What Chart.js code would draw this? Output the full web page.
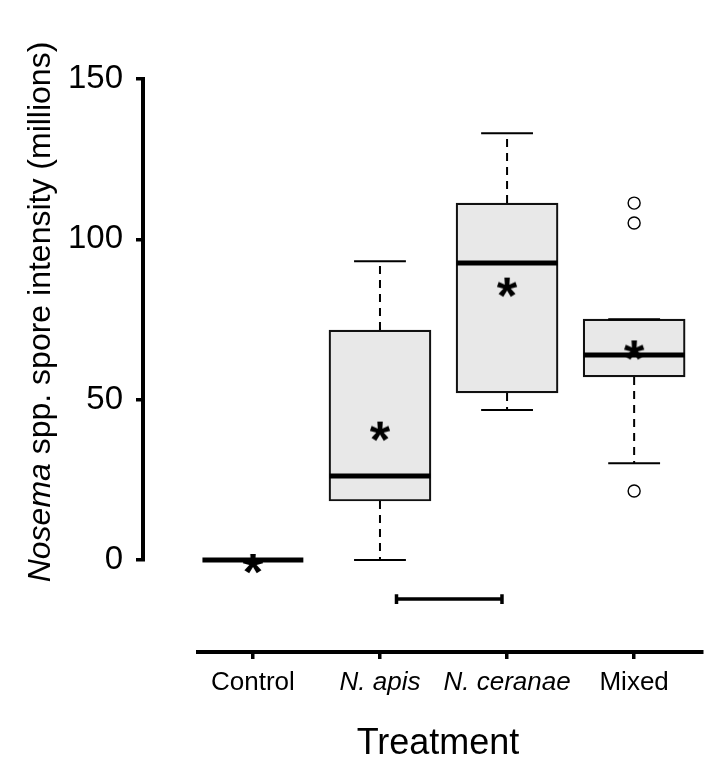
<!DOCTYPE html>
<html><head><meta charset="utf-8">
<script src="https://cdn.jsdelivr.net/npm/chart.js@4.4.1/dist/chart.umd.min.js"></script>
<style>html,body{margin:0;padding:0;background:#fff;}canvas{display:block}</style>
</head><body>
<canvas id="c" width="713" height="766"></canvas>
<script>
// ---- data ----
const categories = ['Control', 'N. apis', 'N. ceranae', 'Mixed'];
const italicCategory = [false, true, true, false];
const whiskerLow  = [0, 0, 46.8, 30.2];
const q1          = [0, 18.4, 52.1, 57.1];
const median      = [0, 26.2, 92.6, 63.9];
const q3          = [0, 71.7, 111.3, 75.1];
const whiskerHigh = [0, 93.2, 133.1, 75.1];
const means       = [0, 41.3, 86.2, 66.6];
const outlierCategory = ['Mixed', 'Mixed', 'Mixed'];
const outlierValues   = [111.3, 105.1, 21.5];
const yTicks = [0, 50, 100, 150];
const bracketEnds = [2.13, 2.96];
const bracketLevel = [-12.2];
const xTitle = 'Treatment';
const yTitleItalic = 'Nosema';
const yTitleRest = ' spp. spore intensity (millions)';

// ---- styling ----
const FONT = '"Liberation Sans", Arial, Helvetica, sans-serif';
const BOX_HALF = 0.397, CAP_HALF = 0.204, SERIF_HALF = 1.0;
const xPos = categories.map((_, i) => i + 1);

function segments(list) {
  const out = [];
  list.forEach(s => { out.push({x: s[0], y: s[1]}, {x: s[2], y: s[3]}, {x: s[2], y: null}); });
  return out;
}
const whiskerSegs = [], capSegs = [], medianSegs = [];
xPos.forEach((x, i) => {
  if (whiskerHigh[i] > q3[i]) whiskerSegs.push([x, q3[i], x, whiskerHigh[i]]);
  if (whiskerLow[i] < q1[i]) whiskerSegs.push([x, q1[i], x, whiskerLow[i]]);
  capSegs.push([x - CAP_HALF, whiskerHigh[i], x + CAP_HALF, whiskerHigh[i]]);
  capSegs.push([x - CAP_HALF, whiskerLow[i], x + CAP_HALF, whiskerLow[i]]);
  medianSegs.push([x - BOX_HALF, median[i], x + BOX_HALF, median[i]]);
});
const lvl = bracketLevel[0];
const bracketSegs = [
  [bracketEnds[0], lvl - SERIF_HALF, bracketEnds[0], lvl + SERIF_HALF],
  [bracketEnds[0], lvl, bracketEnds[1], lvl],
  [bracketEnds[1], lvl - SERIF_HALF, bracketEnds[1], lvl + SERIF_HALF]
];

function asteriskImage() {
  const c = document.createElement('canvas');
  c.width = 60; c.height = 60;
  const g = c.getContext('2d');
  g.font = `bold 40px ${FONT}`;
  let m = g.measureText('*');
  const h40 = m.actualBoundingBoxAscent + m.actualBoundingBoxDescent;
  const size = 40 * 21 / h40;
  g.font = `bold ${size}px ${FONT}`;
  m = g.measureText('*');
  const a = m.actualBoundingBoxAscent, d = m.actualBoundingBoxDescent;
  g.fillStyle = '#000';
  g.textAlign = 'center';
  g.textBaseline = 'alphabetic';
  g.fillText('*', 30, 30 + 4 + (a - d) / 2);
  return c;
}

const titlePlugin = {
  id: 'titles',
  afterDraw(chart) {
    const ctx = chart.ctx;
    ctx.save();
    ctx.fillStyle = '#000';
    ctx.textBaseline = 'alphabetic';
    ctx.textAlign = 'center';
    ctx.font = `36px ${FONT}`;
    ctx.fillText(xTitle, 438, 754);
    const fi = `italic 32px ${FONT}`, fn = `32px ${FONT}`;
    ctx.font = fi; const w1 = ctx.measureText(yTitleItalic).width;
    ctx.font = fn; const w2 = ctx.measureText(yTitleRest).width;
    ctx.translate(50, 312);
    ctx.rotate(-Math.PI / 2);
    ctx.textAlign = 'left';
    const x0 = -(w1 + w2) / 2;
    ctx.font = fi; ctx.fillText(yTitleItalic, x0, 0);
    ctx.font = fn; ctx.fillText(yTitleRest, x0 + w1, 0);
    ctx.restore();
  }
};

const X_MIN = 0.568, X_MAX = 4.534;

new Chart(document.getElementById('c'), {
  data: {
    datasets: [
      { type: 'scatter', label: 'mean', order: 0, clip: false,
        data: xPos.map((x, i) => ({x, y: means[i]})),
        pointStyle: asteriskImage(), pointRadius: 10 },
      { type: 'line', label: 'median', order: 1, clip: false,
        data: segments(medianSegs), borderColor: '#000', borderWidth: 5,
        pointRadius: 0, spanGaps: false, borderCapStyle: 'butt' },
      { type: 'scatter', label: 'outliers', order: 2, clip: false,
        data: outlierCategory.map((c, k) => ({x: categories.indexOf(c) + 1, y: outlierValues[k]})),
        pointStyle: 'circle', pointRadius: 6, pointBorderWidth: 1.4,
        pointBackgroundColor: '#fff', pointBorderColor: '#000' },
      { type: 'line', label: 'caps', order: 3, clip: false,
        data: segments(capSegs), borderColor: '#000', borderWidth: 2,
        pointRadius: 0, spanGaps: false },
      { type: 'line', label: 'whiskers', order: 4, clip: false,
        data: segments(whiskerSegs), borderColor: '#000', borderWidth: 2,
        borderDash: [8, 6], pointRadius: 0, spanGaps: false },
      { type: 'bar', label: 'box', order: 5, clip: false,
        data: xPos.map((x, i) => ({x, y: [q1[i], q3[i]]})),
        backgroundColor: '#e8e8e8', borderColor: '#111', borderWidth: 2.2,
        borderSkipped: false, barThickness: 102 },
      { type: 'line', label: 'bracket', order: 6, clip: false,
        data: segments(bracketSegs), borderColor: '#000', borderWidth: 3.5,
        borderCapStyle: 'square', pointRadius: 0, spanGaps: false }
    ]
  },
  options: {
    responsive: false,
    animation: false,
    devicePixelRatio: 1,
    layout: { padding: { left: 0, right: 10, top: 79, bottom: 0 } },
    plugins: { legend: { display: false }, tooltip: { enabled: false }, title: { display: false } },
    scales: {
      x: {
        type: 'linear', position: 'bottom', weight: 1, min: X_MIN, max: X_MAX, offset: false,
        afterBuildTicks: s => { s.ticks = xPos.map(v => ({value: v})); },
        ticks: {
          autoSkip: false, maxRotation: 0, color: '#000', padding: 8,
          callback: (v, i) => categories[i],
          font: ctx => ({family: FONT, size: 26, style: italicCategory[ctx.index] ? 'italic' : 'normal'})
        },
        grid: { offset: false, drawOnChartArea: false, drawTicks: true, tickLength: 7, tickWidth: 3.5, lineWidth: 3.5, color: '#000' },
        border: { display: true, width: 4, color: '#000' },
        afterFit: s => { s.height = 114; }
      },
      xPad: {
        type: 'linear', axis: 'x', position: 'bottom', weight: 0, offset: false,
        ticks: { display: false }, grid: { display: false }, border: { display: false },
        afterFit: s => { s.height = 92; }
      },
      y: {
        type: 'linear', position: 'left', weight: 1, min: 0, max: 150,
        afterBuildTicks: s => { s.ticks = yTicks.map(v => ({value: v})); },
        ticks: { color: '#000', padding: 13, font: { family: FONT, size: 33 } },
        grid: { drawOnChartArea: false, drawTicks: true, tickLength: 7, tickWidth: 3.5, lineWidth: 3.5, color: '#000' },
        border: { display: true, width: 4, color: '#000' },
        afterFit: s => { s.width = 143; }
      },
      yPad: {
        type: 'linear', axis: 'y', position: 'left', weight: 0,
        ticks: { display: false }, grid: { display: false }, border: { display: false },
        afterFit: s => { s.width = 55; }
      }
    }
  },
  plugins: [titlePlugin]
});
</script>
</body></html>
